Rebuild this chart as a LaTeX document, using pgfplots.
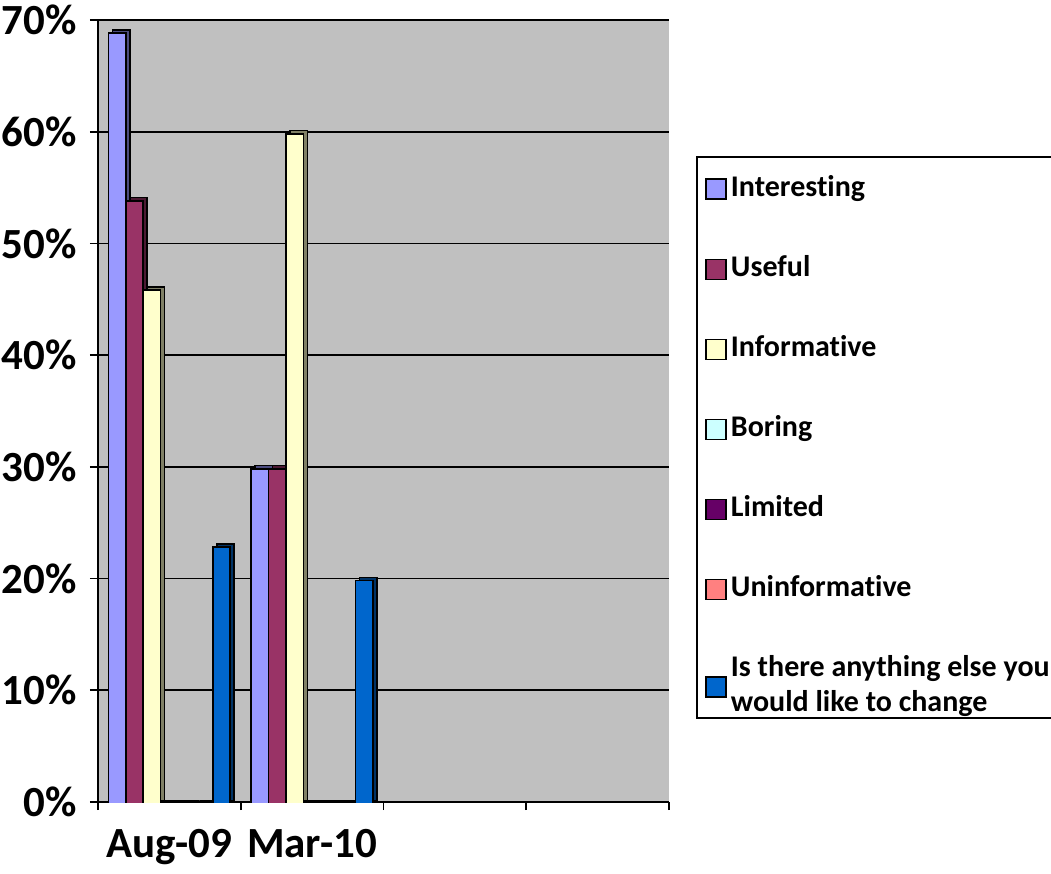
\documentclass[border=0pt]{standalone}
\usepackage{fontspec}
\setmainfont{Carlito}[Ligatures=NoCommon]
\usepackage{pgfplots}
\pgfplotsset{compat=1.18}
\definecolor{cInt}{HTML}{9999FF}
\definecolor{cUse}{HTML}{993366}
\definecolor{cInf}{HTML}{FFFFCC}
\definecolor{cBor}{HTML}{CCFFFF}
\definecolor{cLim}{HTML}{660066}
\definecolor{cUni}{HTML}{FF8080}
\definecolor{cIst}{HTML}{0066CC}
\definecolor{cBg}{HTML}{C0C0C0}
\pgfplotsset{
  side/.style={forget plot, xshift=2pt, yshift=0.6pt, fill=#1!50!black},
  front/.style={fill=#1, yshift=-1pt},
}
\begin{document}
\begin{tikzpicture}
\begin{axis}[
  at={(0,0)}, anchor=south west,
  scale only axis, width=285.5pt, height=391pt,
  xmin=-0.5, xmax=3.5, ymin=0, ymax=70,
  ybar, bar width=8.7pt,
  axis x line*=bottom, axis y line*=left,
  axis line style={black, line width=0.9pt},
  axis background/.style={fill=cBg},
  ytick={0,10,...,70},
  yticklabels={0\%,10\%,20\%,30\%,40\%,50\%,60\%,70\%},
  xtick={-0.5,0.5,1.5,2.5,3.5}, xticklabels={},
  extra x ticks={0,1}, extra x tick labels={Aug-09,Mar-10},
  extra x tick style={major tick length=0pt, xticklabel style={yshift=-10pt}},
  tick align=outside, major tick length=4pt,
  tick style={black, line width=0.8pt},
  ymajorgrids, major grid style={black, line width=0.8pt},
  tick label style={font=\fontsize{21.5}{25}\selectfont\bfseries},
  yticklabel style={xshift=-3pt},
  every axis plot/.append style={draw=black, line width=0.8pt},
  legend image code/.code={\draw[#1, yshift=0pt, draw=black, line width=0.8pt] (0pt,-5pt) rectangle (10pt,5pt);},
  legend style={name=leg, at={(1.049,0.825)}, anchor=north west, draw=none, fill=none,
    font=\fontsize{15}{17.5}\selectfont\bfseries,
    cells={anchor=west, align=left}, row sep=24pt,
    inner xsep=4pt, inner ysep=7pt},
]
\addplot[side=cInt, bar shift=-26.1pt] coordinates {(0,69) (1,30)};
\addplot[front=cInt, bar shift=-26.1pt] coordinates {(0,69) (1,30)};
\addlegendentry{Interesting}
\addplot[side=cUse, bar shift=-17.4pt] coordinates {(0,54) (1,30)};
\addplot[front=cUse, bar shift=-17.4pt] coordinates {(0,54) (1,30)};
\addlegendentry{Useful}
\addplot[side=cInf, bar shift=-8.7pt] coordinates {(0,46) (1,60)};
\addplot[front=cInf, bar shift=-8.7pt] coordinates {(0,46) (1,60)};
\addlegendentry{Informative}
\addplot[side=cBor, bar shift=0pt] coordinates {(0,0) (1,0)};
\addplot[front=cBor, bar shift=0pt] coordinates {(0,0) (1,0)};
\addlegendentry{Boring}
\addplot[side=cLim, bar shift=8.7pt] coordinates {(0,0) (1,0)};
\addplot[front=cLim, bar shift=8.7pt] coordinates {(0,0) (1,0)};
\addlegendentry{Limited}
\addplot[side=cUni, bar shift=17.4pt] coordinates {(0,0) (1,0)};
\addplot[front=cUni, bar shift=17.4pt] coordinates {(0,0) (1,0)};
\addlegendentry{Uninformative}
\addplot[side=cIst, bar shift=26.1pt] coordinates {(0,23) (1,20)};
\addplot[front=cIst, bar shift=26.1pt] coordinates {(0,23) (1,20)};
\addlegendentry{Is there anything else you\\would like to change}
\end{axis}
\draw[black, line width=0.9pt] (leg.north west) rectangle ([yshift=7.5pt]leg.south east);
\pgfresetboundingbox
\useasboundingbox (-49pt,-36pt) rectangle (476.5pt,401pt);
\end{tikzpicture}
\end{document}
